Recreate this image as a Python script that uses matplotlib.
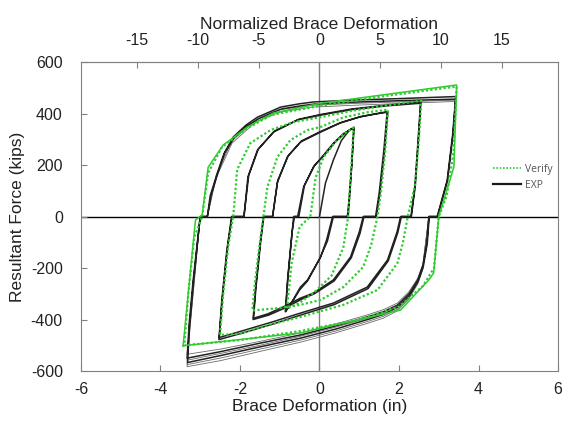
import matplotlib
matplotlib.use('Agg')
import matplotlib.pyplot as plt
from matplotlib.lines import Line2D

plt.rcParams['font.family'] = ['Liberation Sans', 'DejaVu Sans']
plt.rcParams['axes.unicode_minus'] = False

# normalized deformation per inch of brace deformation
NORM = 3.27

# test record (EXP), one polyline per amplitude level, two cycles each
exp_x1 = [0.0, 0.15, 0.35, 0.55, 0.75, 0.86, 0.82, 0.76, 0.72, 0.33, 0.18, 0.03, -0.3, -0.48, -0.65, -0.85,
          -0.8, -0.7, -0.65, -0.55, -0.4, -0.15, 0.03, 0.35, 0.6, 0.87,
          0.81, 0.74, 0.7, 0.35, 0.2, 0.0, -0.3, -0.5, -0.7, -0.86, -0.8, -0.69, -0.63, -0.52, -0.38, -0.12,
          0.1, 0.4, 0.65, 0.86]
exp_y1 = [0, 130, 220, 295, 335, 343, 220, 80, 0, 0, -90, -157, -246, -274, -320, -368,
          -250, -80, 0, 0, 115, 193, 225, 285, 322, 347,
          200, 60, 0, 0, -95, -165, -250, -285, -335, -370, -240, -60, 0, 0, 120, 200,
          235, 290, 325, 345]

exp_x2 = [-1.18, -1.06, -0.81, -0.48, 0.03, 0.5, 1.0, 1.4, 1.7, 1.62, 1.5, 1.41, 1.1, 1.0, 0.78, 0.35,
          -0.15, -0.48, -0.9, -1.3, -1.66, -1.6, -1.48, -1.4, -1.18,
          -1.05, -0.78, -0.45, 0.05, 0.55, 1.05, 1.45, 1.72, 1.64, 1.52, 1.43, 1.12, 1.02, 0.8, 0.37,
          -0.13, -0.46, -0.88, -1.28, -1.67, -1.61, -1.49, -1.41, -1.2]
exp_y2 = [0, 132, 231, 289, 328, 362, 386, 398, 405, 260, 90, 0, 0, -60, -157, -246,
          -297, -317, -350, -378, -395, -280, -100, 0, 0,
          140, 238, 294, 332, 366, 389, 400, 408, 260, 90, 0, 0, -65, -160, -250,
          -300, -322, -356, -383, -400, -280, -100, 0, 0]

exp_x3 = [-1.9, -1.8, -1.56, -1.16, -0.55, 0.03, 0.8, 1.7, 2.54, 2.48, 2.4, 2.3, 2.04, 1.95, 1.71, 1.2,
          0.35, -0.48, -1.2, -1.9, -2.52, -2.45, -2.32, -2.2, -1.9,
          -1.78, -1.54, -1.13, -0.52, 0.05, 0.82, 1.72, 2.55, 2.49, 2.41, 2.31, 2.06, 1.97, 1.73, 1.22,
          0.37, -0.46, -1.18, -1.88, -2.53, -2.46, -2.33, -2.21, -1.92]
exp_y3 = [0, 154, 258, 328, 375, 394, 415, 430, 440, 300, 120, 0, 0, -60, -169, -274,
          -336, -375, -410, -442, -470, -330, -130, 0, 0,
          160, 262, 332, 378, 397, 418, 433, 444, 300, 120, 0, 0, -62, -172, -280,
          -342, -382, -418, -450, -478, -330, -130, 0, 0]

exp_x4 = [-2.82, -2.75, -2.57, -2.4, -2.17, -1.85, -1.56, -1.2, -0.98, -0.5, -0.15, 0.8, 2.0, 3.43,
          3.36, 3.22, 2.97, 2.75, 2.7, 2.6, 2.47, 2.25, 1.96, 1.6, 1.2, 0.4, -0.48, -1.5, -2.5, -3.33,
          -3.28, -3.18, -3.0, -2.82,
          -2.72, -2.55, -2.38, -2.15, -1.83, -1.53, -1.18, -0.95, -0.47, -0.12, 0.82, 2.02, 3.42,
          3.35, 3.21, 2.96, 2.76, 2.71, 2.61, 2.48, 2.26, 1.97, 1.61, 1.21, 0.41, -0.47, -1.49, -2.49, -3.32,
          -3.27, -3.17, -3.0, -2.84]
exp_y4 = [0, 80, 169, 245, 309, 355, 386, 410, 425, 438, 445, 452, 458, 466,
          320, 140, 0, 0, -100, -190, -246, -300, -344, -370, -390, -425, -460, -492, -525, -550,
          -420, -250, 0, 0,
          85, 172, 248, 305, 350, 380, 404, 418, 430, 437, 444, 450, 456,
          320, 140, 0, 0, -105, -195, -252, -308, -352, -380, -400, -437, -472, -506, -540, -567,
          -430, -255, 0, 0]

# repeated cycles at the largest amplitude
bundle_x = [2.75, 2.6, 2.47, 2.25, 1.96, 1.6, 1.2, 0.4, -0.48, -1.5, -2.5, -3.33, -3.26, -3.0]
bundle_y = [
    [0, -185, -240, -292, -336, -362, -382, -418, -452, -485, -515, -535, -400, 0],
    [0, -200, -258, -315, -360, -388, -408, -445, -480, -515, -550, -575, -430, 0],
    [0, -205, -262, -320, -366, -395, -415, -452, -488, -524, -560, -583, -440, 0],
    [0, -190, -250, -305, -348, -375, -395, -430, -465, -500, -532, -558, -420, 0],
]
bundle_top_x = [-2.82, -2.6, -2.2, -1.6, -1.0, -0.2, 1.0, 2.2, 3.43]
bundle_top_y = [
    [0, 160, 295, 375, 415, 432, 440, 446, 452],
    [0, 150, 285, 368, 405, 425, 433, 440, 447],
]

# analysis (Verify)
ver_x1 = [-0.23, -0.1, 0.1, 0.4, 0.65, 0.86, 0.8, 0.72, 0.6, 0.3, -0.1, -0.5, -0.82, -0.7, -0.5, -0.23]
ver_y1 = [0, 150, 230, 290, 325, 345, 200, 0, -120, -230, -290, -335, -358, -180, -40, 0]

ver_x2 = [-1.41, -1.31, -1.06, -0.73, -0.3, 0.03, 0.6, 1.2, 1.72, 1.65, 1.55, 1.46, 1.3, 1.1, 0.6, 0.03,
          -0.48, -1.0, -1.69, -1.62, -1.5, -1.41]
ver_y2 = [0, 115, 231, 297, 336, 348, 385, 405, 415, 250, 100, 0, -110, -196, -274, -324,
          -343, -355, -365, -250, -100, 0]

ver_x3 = [-2.17, -2.07, -1.74, -1.23, -0.65, 0.03, 0.8, 1.7, 2.56, 2.5, 2.4, 2.22, 2.1, 1.96, 1.46, 0.6,
          -0.48, -1.5, -2.0, -2.5, -2.42, -2.3, -2.17]
ver_y3 = [0, 183, 285, 336, 367, 386, 410, 432, 450, 300, 120, 0, -100, -181, -285, -343,
          -390, -430, -455, -460, -300, -120, 0]

ver_x4 = [-2.95, -2.8, -2.45, -1.85, -1.2, 0.0, 1.5, 3.45, 3.37, 3.2, 3.0, 2.88, 2.6, 2.0, 1.0, -0.5,
          -2.0, -3.4, -3.3, -3.15, -2.95]
ver_y4 = [0, 170, 270, 340, 395, 430, 465, 505, 250, 80, 0, -200, -270, -350, -400, -445,
          -480, -500, -300, -80, 0]

# last analysis cycle
env_x = [-3.43, -3.12, -2.95, -2.8, -2.42, -1.81, -1.16, 0.03, 3.45, 3.38, 3.0, 2.87, 2.75, 2.04, -0.48, -3.43]
env_y = [-502, -14, 6, 192, 278, 348, 402, 440, 511, 192, 0, -220, -246, -363, -452, -502]

GREEN = '#2ecc2e'
GRID = '#808080'
TEXT = '#222222'

fig = plt.figure(figsize=(5.62, 4.25), dpi=100)
ax = fig.add_axes([0.144, 0.127, 0.849, 0.727])

ax.axhline(0, color='black', lw=1.0, zorder=1)
ax.axvline(0, color=GRID, lw=1.0, zorder=1)

for row in bundle_y:
    ax.plot(bundle_x, row, color='#6a6a6a', lw=0.6, zorder=2)
for row in bundle_top_y:
    ax.plot(bundle_top_x, row, color='#6a6a6a', lw=0.6, zorder=2)
for xs, ys in [(exp_x1, exp_y1), (exp_x2, exp_y2), (exp_x3, exp_y3), (exp_x4, exp_y4)]:
    ax.plot(xs, ys, color='#222222', lw=1.1, zorder=3)

ax.plot(env_x, env_y, color=GREEN, lw=1.1, zorder=4)
for xs, ys in [(ver_x1, ver_y1), (ver_x2, ver_y2), (ver_x3, ver_y3), (ver_x4, ver_y4)]:
    ax.plot(xs, ys, color=GREEN, lw=1.6, ls=(0, (1, 1)), zorder=4)

ax.set_xlim(-6, 6)
ax.set_ylim(-600, 600)
ax.set_xticks(range(-6, 7, 2))
ax.set_yticks(range(-600, 601, 200))
ax.tick_params(direction='in', length=4, color=GRID, labelsize=11.5, labelcolor=TEXT)
ax.tick_params(axis='x', pad=8)
ax.tick_params(axis='y', pad=13)
for s in ax.spines.values():
    s.set_color(GRID)
ax.set_xlabel('Brace Deformation (in)', fontsize=12.5, color=TEXT, labelpad=1)
ax.set_ylabel('Resultant Force (kips)', fontsize=12.5, color=TEXT, labelpad=4)

top = ax.secondary_xaxis('top', functions=(lambda x: x * NORM, lambda n: n / NORM))
top.set_xticks([-15, -10, -5, 0, 5, 10, 15])
top.tick_params(direction='in', length=4, color=GRID, labelsize=11.5, labelcolor=TEXT, pad=10)
top.spines['top'].set_color(GRID)
top.set_xlabel('Normalized Brace Deformation', fontsize=12.5, color=TEXT, labelpad=3)

handles = [Line2D([], [], color=GREEN, lw=1.2, ls=(0, (1, 1))),
           Line2D([], [], color='#1a1a1a', lw=1.6)]
ax.legend(handles, ['Verify', 'EXP'], loc='upper left', bbox_to_anchor=(0.845, 0.70),
          frameon=False, handlelength=2.6, handletextpad=0.4, labelspacing=0.45,
          prop={'family': 'Open Sans', 'size': 7.5}, labelcolor='#555555')

fig.savefig('out.png', dpi=100)
